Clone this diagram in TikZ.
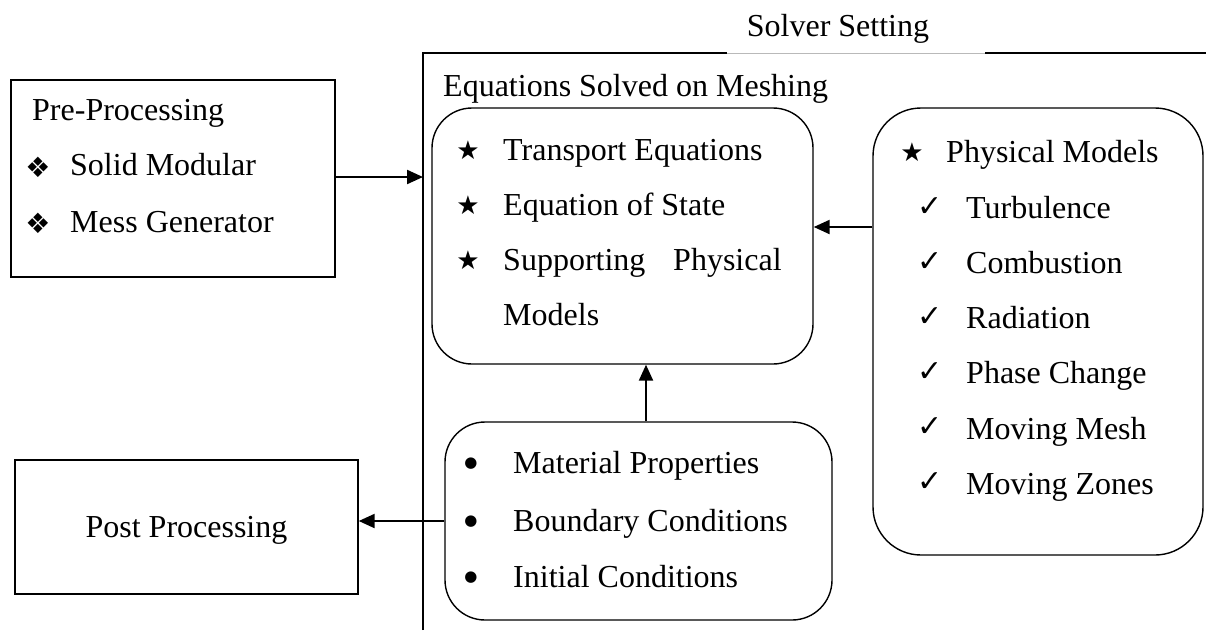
\documentclass[tikz,border=0pt]{standalone}
\usepackage{fontspec}
\setmainfont{Liberation Serif}
\newfontfamily\symfont{DejaVu Sans}
\usetikzlibrary{arrows.meta}
\tikzset{
  txt/.style={inner sep=0pt, anchor=base west, font=\fontsize{32}{36}\selectfont},
  sym/.style={inner sep=0pt, anchor=center, font=\symfont\fontsize{26}{30}\selectfont},
  dia/.style={inner sep=0pt, anchor=center, font=\symfont\fontsize{28}{32}\selectfont},
  chk/.style={inner sep=0pt, anchor=center, font=\symfont\fontsize{30}{32}\selectfont},
  blt/.style={inner sep=0pt, anchor=center, font=\symfont\fontsize{15}{18}\selectfont},
  sqbox/.style={draw, line width=1.4pt, rectangle, inner sep=0pt},
  rbox/.style={draw, line width=1.4pt, rectangle, rounded corners=40pt, inner sep=0pt},
  arr/.style={line width=2.2pt, -{Triangle[length=16pt,width=14pt]}},
  frame/.style={line width=1.4pt}
}
\begin{document}
\begin{tikzpicture}[x=1pt,y=-1pt]
\useasboundingbox (0,0) rectangle (1206,630);
% outer frame
\coordinate (fTL) at (423,53);
\coordinate (fBL) at (423,630);
\coordinate (g1) at (727,53);
\coordinate (g2) at (985,53);
\coordinate (fTR) at (1206,53);
\draw[frame] (fBL) -- (fTL) -- (g1);
\draw[gray!55, line width=0.8pt] (g1) -- (g2);
\draw[frame] (g2) -- (fTR);
\node[txt, anchor=base] (solver) at (838,36) {Solver Setting};
\node[txt] (eqtitle) at (443,96) {Equations Solved on Meshing};

% boxes
\node[sqbox, minimum width=324pt, minimum height=197pt] (pre) at (173,178.5) {};
\node[rbox, minimum width=381pt, minimum height=256pt] (eq) at (622.5,236) {};
\node[rbox, rounded corners=48pt, minimum width=330pt, minimum height=447pt] (phys) at (1038,331.5) {};
\node[rbox, minimum width=387pt, minimum height=198pt] (mat) at (638.5,521) {};
\node[sqbox, minimum width=343pt, minimum height=134pt] (post) at (186.5,527) {};

% pre-processing
\node[txt] (preT) at (32,120) {Pre-Processing};
\node[dia] (preS1) at (38,167) {❖};
\node[txt] (preA) at (70,175) {Solid Modular};
\node[dia] (preS2) at (38,223) {❖};
\node[txt] (preB) at (70,232) {Mess Generator};

% equations
\node[sym] (eqS1) at (468,150) {★};
\node[txt] (eqA) at (503,160) {Transport Equations};
\node[sym] (eqS2) at (468,205) {★};
\node[txt] (eqB) at (503,215) {Equation of State};
\node[sym] (eqS3) at (468,260) {★};
\node[txt] (eqC) at (503,270) {Supporting};
\node[txt] (eqC2) at (673,270) {Physical};
\node[txt] (eqD) at (503,325) {Models};

% physical models
\node[sym] (phS) at (912,152) {★};
\node[txt] (phT) at (946,162) {Physical Models};
\node[chk] (c1) at (930,207) {✓};
\node[txt] (p1) at (966,218) {Turbulence};
\node[chk] (c2) at (930,262) {✓};
\node[txt] (p2) at (966,273) {Combustion};
\node[chk] (c3) at (930,317) {✓};
\node[txt] (p3) at (966,328) {Radiation};
\node[chk] (c4) at (930,372) {✓};
\node[txt] (p4) at (966,383) {Phase Change};
\node[chk] (c5) at (930,427) {✓};
\node[txt] (p5) at (966,439) {Moving Mesh};
\node[chk] (c6) at (930,482) {✓};
\node[txt] (p6) at (966,494) {Moving Zones};

% material
\node[blt] (b1) at (471,464) {●};
\node[txt] (m1) at (513,473) {Material Properties};
\node[blt] (b2) at (471,522) {●};
\node[txt] (m2) at (513,531) {Boundary Conditions};
\node[blt] (b3) at (471,578) {●};
\node[txt] (m3) at (513,587) {Initial Conditions};

% post
\node[txt, anchor=base] (postT) at (186.5,537) {Post Processing};

% connectors
\coordinate (ya) at (0,227);
\coordinate (yb) at (0,177);
\coordinate (xu) at (646,0);
\draw[arr] (pre.east |- yb) -- (fTL |- yb);
\draw[arr] (phys.west |- ya) -- (eq.east |- ya);
\draw[arr] (mat.north -| xu) -- (eq.south -| xu);
\draw[arr] (mat.west) -- (post.east |- mat.west);
\end{tikzpicture}
\end{document}
